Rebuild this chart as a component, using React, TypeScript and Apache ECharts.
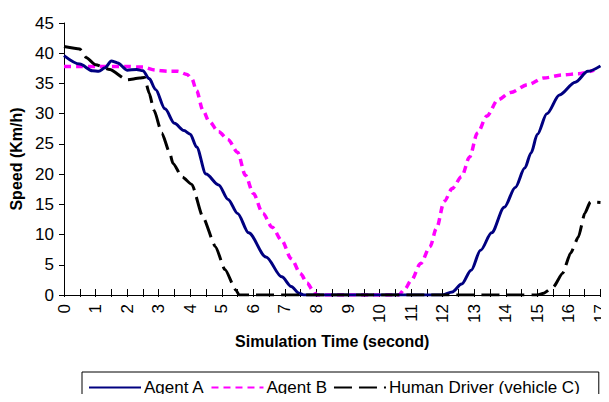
import React, { useEffect, useRef } from "react";
import * as echarts from "echarts";

const agentATime = [0, 0.5, 0.9, 1.1, 1.3, 1.5, 1.7, 2.0, 2.3, 2.5, 2.7, 2.9, 3.2, 3.5, 3.8, 4.0, 4.2, 4.5, 4.9, 5.2, 5.5, 5.85, 6.4, 6.9, 7.2, 7.45, 7.6, 12.0, 12.3, 12.6, 12.9, 13.2, 13.55, 13.95, 14.3, 14.6, 14.8, 15.0, 15.3, 15.7, 16.2, 16.6, 17.0];
const agentASpeed = [39.6, 38.2, 37.1, 37.0, 37.6, 38.7, 38.4, 37.2, 37.3, 37.1, 35.8, 34.0, 30.8, 28.4, 27.2, 26.6, 24.5, 20.0, 18.2, 15.8, 13.5, 10.3, 6.3, 3.0, 1.4, 0.3, 0, 0, 0.5, 1.8, 4.1, 7.4, 10.3, 14.5, 17.8, 21.0, 23.5, 26.6, 30.0, 33.1, 35.2, 37.0, 37.9];

const agentBTime = [0, 0.5, 1, 1.5, 2.0, 2.5, 2.9, 3.3, 3.6, 3.9, 4.05, 4.2, 4.4, 4.6, 4.9, 5.2, 5.5, 5.75, 6.0, 6.3, 6.6, 6.9, 7.2, 7.5, 7.7, 7.9, 8.0, 10.6, 10.8, 11.0, 11.3, 11.6, 11.8, 12.05, 12.3, 12.6, 12.85, 13.1, 13.4, 13.75, 14.15, 14.7, 15.2, 15.8, 16.3, 16.8];
const agentBSpeed = [37.8, 37.8, 37.8, 37.8, 37.8, 37.7, 37.2, 37.0, 37.0, 36.5, 35.8, 33.8, 30.6, 28.7, 27.0, 25.7, 23.6, 19.8, 16.8, 13.5, 11.2, 9.0, 6.0, 3.5, 2.0, 0.7, 0, 0, 1.0, 2.4, 5.2, 8.0, 11.0, 15.5, 17.6, 19.6, 22.8, 26.8, 29.6, 32.3, 33.5, 34.8, 35.9, 36.4, 36.6, 37.2];

const humanTime = [0, 0.5, 0.7, 1.0, 1.45, 2.0, 2.4, 2.55, 2.7, 2.85, 3.1, 3.35, 3.45, 3.75, 4.05, 4.4, 4.8, 5.1, 5.45, 5.55, 15.0, 15.2, 15.5, 15.8, 16.05, 16.3, 16.5, 16.68, 17.0];
const humanSpeed = [41.1, 40.7, 39.3, 38.1, 37.3, 35.6, 35.9, 36.0, 33.4, 30.6, 26.8, 23.5, 21.8, 19.5, 18.3, 12.9, 8.0, 4.2, 0.8, 0, 0, 0.3, 1.3, 3.6, 6.9, 9.6, 13.5, 15.4, 15.3];

const seriesNames = ["Agent A", "Agent B", "Human Driver (vehicle C)"];

const zip = (t: number[], v: number[]) => t.map((x, i) => [x, v[i]]);

const FONT = "Liberation Sans, Arial, sans-serif";

export default function App() {
  const ref = useRef<HTMLDivElement>(null);
  useEffect(() => {
    if (!ref.current) return;
    const chart = echarts.init(ref.current, undefined, { renderer: "svg" });
    const baseX = {
      type: "value",
      min: 0,
      max: 17,
      interval: 0.5,
      splitLine: { show: false },
    };
    chart.setOption({
      animation: false,
      backgroundColor: "#ffffff",
      grid: { left: 64, right: 4, top: 23, bottom: 107, containLabel: false },
      xAxis: [
        {
          ...baseX,
          position: "bottom",
          name: "Simulation Time (second)",
          nameLocation: "middle",
          nameGap: 38,
          nameTextStyle: { fontFamily: FONT, fontSize: 16, fontWeight: "bold", color: "#000" },
          axisLine: { show: true, lineStyle: { color: "#000", width: 1 } },
          axisTick: { show: true, inside: true, length: 6, lineStyle: { color: "#000" } },
          axisLabel: {
            rotate: 90,
            margin: 9,
            fontFamily: FONT,
            fontSize: 17,
            color: "#000",
            formatter: (v: number) => (Number.isInteger(v) ? String(v) : ""),
          },
        },
        {
          ...baseX,
          position: "bottom",
          axisLine: { show: false },
          axisTick: { show: true, inside: false, length: 2, lineStyle: { color: "#000" } },
          axisLabel: { show: false },
        },
      ],
      yAxis: {
        type: "value",
        min: 0,
        max: 45,
        interval: 5,
        name: "Speed (Km/h)",
        nameLocation: "middle",
        nameGap: 40,
        nameRotate: 90,
        nameTextStyle: { fontFamily: FONT, fontSize: 16, fontWeight: "bold", color: "#000" },
        splitLine: { show: false },
        axisLine: { show: true, lineStyle: { color: "#000", width: 1 } },
        axisTick: { show: true, inside: false, length: 5, lineStyle: { color: "#000" } },
        axisLabel: { margin: 10, fontFamily: FONT, fontSize: 17, color: "#000" },
      },
      legend: {
        left: 82,
        top: 372,
        orient: "horizontal",
        padding: [7, 19, 20, 6],
        itemWidth: 52,
        itemHeight: 14,
        itemGap: 6,
        borderColor: "#000",
        borderWidth: 1,
        itemStyle: { opacity: 0 },
        textStyle: { fontFamily: FONT, fontSize: 17, color: "#000", padding: [0, 0, 0, -2] },
        data: seriesNames,
      },
      series: [
        {
          name: seriesNames[0],
          type: "line",
          xAxisIndex: 0,
          data: zip(agentATime, agentASpeed),
          showSymbol: false,
          symbol: "none",
          smooth: 0.3,
          smoothMonotone: "x",
          lineStyle: { color: "#000080", width: 3, type: "solid" },
          itemStyle: { color: "#000080" },
          z: 3,
        },
        {
          name: seriesNames[1],
          type: "line",
          xAxisIndex: 0,
          data: zip(agentBTime, agentBSpeed),
          showSymbol: false,
          symbol: "none",
          smooth: 0.3,
          smoothMonotone: "x",
          lineStyle: { color: "#FF00FF", width: 3.5, type: [7, 5] },
          itemStyle: { color: "#FF00FF" },
          z: 2,
        },
        {
          name: seriesNames[2],
          type: "line",
          xAxisIndex: 0,
          data: zip(humanTime, humanSpeed),
          showSymbol: false,
          symbol: "none",
          smooth: 0.2,
          smoothMonotone: "x",
          lineStyle: { color: "#000000", width: 3, type: [18, 7] },
          itemStyle: { color: "#000000" },
          z: 4,
        },
      ],
    });
    return () => chart.dispose();
  }, []);
  return <div ref={ref} style={{ width: 609, height: 402, margin: -8 }} />;
}
